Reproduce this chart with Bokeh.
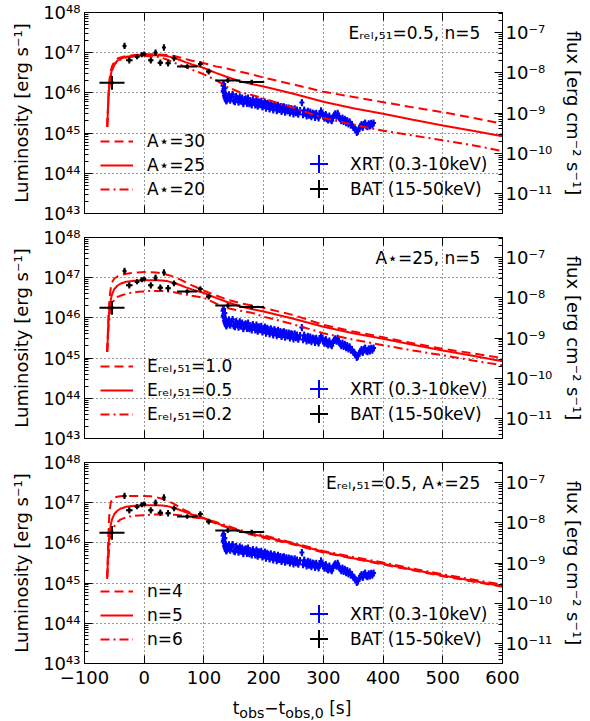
import numpy as np
from bokeh.plotting import figure
from bokeh.models import (Range1d, LogScale, LogAxis, LinearAxis, LogTicker, FixedTicker,
                          Label, Legend, LegendItem, CustomJSTickFormatter, Div)
from bokeh.layouts import column
from bokeh.embed import file_html
from bokeh.resources import INLINE

FONT = "DejaVu Sans"

# ---------------- data ----------------
x_ticks = [-100, 0, 100, 200, 300, 400, 500, 600]

# BAT (15-50 keV): time [s], log10 L, half-width in time, log error
bat_t = [-54, -33, -25, -12, -4, 0, 11, 19, 27, 33, 40, 50, 72, 94, 108, 140, 180]
bat_logL = [46.25, 47.17, 46.81, 46.90, 46.95, 46.97, 46.81, 47.00, 46.75, 47.13, 46.74, 46.86,
            46.66, 46.72, 46.53, 46.31, 46.27]
bat_terr = [21, 1.5, 5.5, 4, 3, 3, 4.5, 1.5, 4.5, 1.5, 4.5, 4, 17, 4, 4.5, 21, 21]
bat_dlog = [0.17, 0.08, 0.08, 0.06, 0.06, 0.06, 0.08, 0.08, 0.08, 0.08, 0.08, 0.07, 0.05,
            0.07, 0.07, 0.06, 0.06]

# XRT (0.3-10 keV)
xrt_t = [132, 132.5, 133, 133.5, 134, 134.5, 135, 135.5, 136, 136.5, 137, 137.5, 138, 139, 140,
         142, 144, 146, 148, 150, 152, 154, 156, 158, 160, 162, 164, 166, 168, 170, 172, 174,
         176, 178, 180, 182, 184, 186, 188, 190, 192, 194, 196, 198, 200, 202, 204, 206, 208,
         210, 212, 214, 216, 218, 220, 222, 224, 226, 228, 230, 232, 234, 236, 238, 240, 242,
         244, 246, 248, 250, 252, 254, 256, 258, 261, 264, 266, 268, 270, 272, 274, 276, 278,
         280, 282, 284, 286, 288, 290, 292, 294, 296, 298, 300, 302, 304, 306, 308, 310, 312,
         314, 316, 318, 320, 322, 324, 326, 328, 330, 332, 334, 336, 338, 340, 342, 344, 346,
         348, 350, 352, 354, 356, 358, 360, 362, 364, 366, 368, 370, 372, 374, 376, 378, 380,
         382, 384]
xrt_logL = [46.18, 46.05, 46.22, 46.10, 46.00, 45.93, 46.12, 45.88, 45.98, 45.84, 45.93, 45.80,
            45.89, 45.83, 45.88,
            45.95, 45.82, 45.90, 45.96, 45.80, 45.78, 45.91, 45.86, 45.77, 45.90, 45.80, 45.87,
            45.73, 45.83, 45.85, 45.74, 45.87, 45.73, 45.80, 45.70, 45.83, 45.78, 45.70, 45.82,
            45.67, 45.78, 45.71, 45.79, 45.65, 45.72, 45.77, 45.62, 45.74, 45.71, 45.60, 45.73,
            45.67, 45.58, 45.71, 45.66, 45.56, 45.69, 45.59, 45.66, 45.54, 45.64, 45.65, 45.52,
            45.63, 45.55, 45.62, 45.50, 45.60, 45.59, 45.48, 45.60, 45.51, 45.57, 45.47, 45.56,
            45.76, 45.46, 45.57, 45.50, 45.43, 45.54, 45.45, 45.52, 45.41, 45.50, 45.48, 45.39,
            45.49, 45.43, 45.38, 45.47, 45.55, 45.50, 45.42, 45.37, 45.46, 45.36, 45.33, 45.42,
            45.35, 45.31, 45.39, 45.44, 45.48, 45.42, 45.49, 45.40, 45.36, 45.31, 45.37, 45.29,
            45.34, 45.26, 45.31, 45.23, 45.28, 45.20, 45.21, 45.15, 45.13, 45.08, 45.02, 45.05,
            45.12, 45.17, 45.21, 45.14, 45.22, 45.25, 45.18, 45.16, 45.23, 45.18, 45.24, 45.20,
            45.25]
xrt_terr = 1.0
xrt_dlog = 0.09

# model light curves (log10 L) sampled at model_t
model_t = [-62, -61, -60, -59, -58, -56, -54, -50, -45, -40, -30, -20, -10, 0, 10, 20, 30, 40,
           50, 60, 70, 80, 100, 120, 140, 160, 180, 200, 250, 300, 350, 400, 450, 500, 550, 600]
model_E05_A25_n5 = [45.15, 45.50, 45.85, 46.10, 46.25, 46.45, 46.58, 46.72, 46.80, 46.85, 46.90,
                    46.92, 46.93, 46.94, 46.94, 46.94, 46.93, 46.91, 46.87, 46.82, 46.76, 46.71,
                    46.62, 46.50, 46.39, 46.29, 46.22, 46.16, 45.98, 45.78, 45.62, 45.48, 45.33,
                    45.19, 45.06, 44.92]
model_A30 = [45.15, 45.55, 45.90, 46.15, 46.35, 46.55, 46.66, 46.78, 46.85, 46.88, 46.92, 46.94,
             46.95, 46.96, 46.96, 46.96, 46.95, 46.94, 46.92, 46.88, 46.84, 46.80, 46.74, 46.66,
             46.60, 46.53, 46.46, 46.38, 46.21, 46.03, 45.90, 45.77, 45.64, 45.52, 45.38, 45.23]
model_A20 = [45.15, 45.45, 45.80, 46.05, 46.20, 46.42, 46.55, 46.70, 46.78, 46.83, 46.88, 46.90,
             46.91, 46.92, 46.91, 46.90, 46.87, 46.82, 46.75, 46.70, 46.64, 46.58, 46.46, 46.32,
             46.14, 46.02, 45.95, 45.86, 45.63, 45.38, 45.21, 45.06, 44.94, 44.82, 44.70, 44.55]
model_E10 = [45.15, 45.60, 46.00, 46.30, 46.50, 46.75, 46.88, 46.98, 47.03, 47.06, 47.10, 47.12,
             47.13, 47.14, 47.14, 47.13, 47.11, 47.07, 47.02, 46.96, 46.88, 46.81, 46.68, 46.56,
             46.45, 46.37, 46.31, 46.25, 46.07, 45.83, 45.66, 45.52, 45.37, 45.23, 45.12, 45.00]
model_E02 = [45.15, 45.45, 45.70, 45.90, 46.05, 46.25, 46.35, 46.46, 46.52, 46.55, 46.60, 46.63,
             46.65, 46.66, 46.67, 46.67, 46.67, 46.66, 46.64, 46.61, 46.58, 46.55, 46.50, 46.36,
             46.24, 46.18, 46.13, 46.03, 45.84, 45.62, 45.46, 45.32, 45.19, 45.07, 44.94, 44.82]
model_n4 = [45.10, 45.70, 46.20, 46.55, 46.80, 47.00, 47.08, 47.13, 47.15, 47.16, 47.17, 47.17,
            47.17, 47.17, 47.16, 47.14, 47.10, 47.04, 46.97, 46.88, 46.80, 46.73, 46.60, 46.48,
            46.38, 46.29, 46.20, 46.13, 45.96, 45.76, 45.61, 45.46, 45.32, 45.17, 45.04, 44.91]
model_n6 = [45.15, 45.40, 45.60, 45.80, 45.95, 46.15, 46.28, 46.42, 46.52, 46.58, 46.64, 46.67,
            46.68, 46.69, 46.70, 46.71, 46.71, 46.71, 46.70, 46.69, 46.67, 46.64, 46.60, 46.52,
            46.42, 46.32, 46.25, 46.19, 46.00, 45.80, 45.65, 45.51, 45.36, 45.22, 45.09, 44.96]

panel_labels = ["Eᵣₑₗ,₅₁=0.5, n=5", "A⋆=25, n=5", "Eᵣₑₗ,₅₁=0.5, A⋆=25"]
legend_labels = [["A⋆=30", "A⋆=25", "A⋆=20"],
                 ["Eᵣₑₗ,₅₁=1.0", "Eᵣₑₗ,₅₁=0.5", "Eᵣₑₗ,₅₁=0.2"],
                 ["n=4", "n=5", "n=6"]]
panel_models = [(model_A30, model_E05_A25_n5, model_A20),
                (model_E10, model_E05_A25_n5, model_E02),
                (model_n4, model_E05_A25_n5, model_n6)]

LOG_L_PER_FLUX = 54.5  # log10(4 pi d^2)

blank = CustomJSTickFormatter(code="return ''")
xfmt = CustomJSTickFormatter(code="return tick < 0 ? '\u2212' + (-tick) : '' + tick")
logfmt = CustomJSTickFormatter(code="""
const sup = {'-': '\u207b', '0': '\u2070', '1': '\u00b9', '2': '\u00b2', '3': '\u00b3',
             '4': '\u2074', '5': '\u2075', '6': '\u2076', '7': '\u2077', '8': '\u2078',
             '9': '\u2079'};
const e = Math.round(Math.log10(tick));
return '10' + String(e).split('').map((c) => sup[c]).join('');
""")

TICK_FS = "18px"
LABEL_FS = "18px"
TEXT_FS = "17px"


def style_axis(ax):
    ax.major_tick_in = 8
    ax.major_tick_out = 0
    ax.minor_tick_in = 4
    ax.minor_tick_out = 0
    ax.axis_line_color = "black"
    ax.major_tick_line_color = "black"
    ax.minor_tick_line_color = "black"
    ax.major_label_text_font = FONT
    ax.major_label_text_font_size = TICK_FS
    ax.major_label_text_color = "black"
    ax.axis_label_text_font = FONT
    ax.axis_label_text_font_size = LABEL_FS
    ax.axis_label_text_font_style = "normal"
    ax.axis_label_text_color = "black"


def make_panel(i, height, top, bottom, last):
    p = figure(width=590, height=height, x_range=Range1d(-100, 600),
               y_range=Range1d(10 ** 42.999, 10 ** 48.001), y_axis_type="log",
               output_backend="svg", toolbar_location=None,
               min_border_left=84, min_border_right=88, min_border_top=top,
               min_border_bottom=bottom)
    p.outline_line_color = "black"
    p.outline_line_alpha = 1
    p.background_fill_color = "white"
    p.border_fill_color = "white"

    xt = FixedTicker(ticks=x_ticks, minor_ticks=[])
    p.xaxis.ticker = xt
    p.xgrid.ticker = xt
    p.xaxis.formatter = xfmt if last else blank
    style_axis(p.xaxis[0])
    p.xaxis.major_label_standoff = 7 if last else 0

    yt = LogTicker(num_minor_ticks=10)
    p.yaxis.ticker = yt
    p.ygrid.ticker = yt
    p.yaxis.formatter = logfmt
    style_axis(p.yaxis[0])
    p.yaxis.axis_label = "Luminosity [erg s⁻¹]"
    p.yaxis.major_label_standoff = 4
    p.yaxis.axis_label_standoff = 8

    top_ax = LinearAxis(ticker=xt, formatter=blank)
    style_axis(top_ax)
    top_ax.major_label_standoff = 0
    p.add_layout(top_ax, "above")

    p.extra_y_ranges = {"flux": Range1d(10 ** (42.999 - LOG_L_PER_FLUX),
                                        10 ** (48.001 - LOG_L_PER_FLUX))}
    p.extra_y_scales = {"flux": LogScale()}
    r_ax = LogAxis(y_range_name="flux", ticker=LogTicker(num_minor_ticks=10),
                   formatter=logfmt, axis_label="flux [erg cm⁻² s⁻¹]")
    style_axis(r_ax)
    r_ax.major_label_standoff = 3
    r_ax.axis_label_standoff = 8
    p.add_layout(r_ax, "right")

    for g in (p.xgrid[0], p.ygrid[0]):
        g.grid_line_color = "black"
        g.grid_line_dash = "1 3"
        g.grid_line_width = 1
        g.grid_line_alpha = 0.8

    # XRT
    xt_arr = np.array(xrt_t, dtype=float)
    xl = np.array(xrt_logL)
    p.segment(x0=xt_arr - xrt_terr, y0=10 ** xl, x1=xt_arr + xrt_terr, y1=10 ** xl,
              line_color="#0000ff", line_width=2)
    p.segment(x0=xt_arr, y0=10 ** (xl - xrt_dlog), x1=xt_arr, y1=10 ** (xl + xrt_dlog),
              line_color="#0000ff", line_width=2)
    r_xrt = p.scatter(xt_arr, 10 ** xl, marker="cross", size=5, line_color="#0000ff",
                      line_width=2)

    # models
    dashes = ["9 5", "solid", "9 4 2 4"]
    rs = []
    for curve, dash in zip(panel_models[i], dashes):
        r = p.line(model_t, 10 ** np.array(curve), line_color="#ff0000", line_width=2,
                   line_dash=dash)
        rs.append(r)

    # BAT
    bt = np.array(bat_t, dtype=float)
    bl = np.array(bat_logL)
    be = np.array(bat_terr, dtype=float)
    bd = np.array(bat_dlog)
    p.segment(x0=bt - be, y0=10 ** bl, x1=bt + be, y1=10 ** bl, line_color="black",
              line_width=2)
    p.segment(x0=bt, y0=10 ** (bl - bd), x1=bt, y1=10 ** (bl + bd), line_color="black",
              line_width=2)
    r_bat = p.scatter(bt, 10 ** bl, marker="cross", size=4, line_color="black", line_width=2)

    leg = Legend(items=[LegendItem(label=lab, renderers=[r])
                        for lab, r in zip(legend_labels[i], rs)],
                 location=(16, 13), padding=0, margin=0, spacing=2, glyph_width=33,
                 glyph_height=22, label_height=22, label_standoff=14,
                 background_fill_alpha=0, border_line_alpha=0,
                 label_text_font=FONT, label_text_font_size=TEXT_FS,
                 label_text_color="black")
    p.add_layout(leg)

    for lab, r, y in (("XRT (0.3-10keV)", r_xrt, 27), ("BAT (15-50keV)", r_bat, 2)):
        lg = Legend(items=[LegendItem(label=lab, renderers=[r])], location=(212, y),
                    padding=0, margin=0, glyph_width=45, glyph_height=45, label_standoff=9,
                    background_fill_alpha=0, border_line_alpha=0,
                    label_text_font=FONT, label_text_font_size=TEXT_FS,
                    label_text_color="black")
        p.add_layout(lg)

    p.add_layout(Label(x=563, y=10 ** 47.5, text=panel_labels[i], text_align="right",
                       text_baseline="middle", text_font=FONT, text_font_size=TEXT_FS,
                       text_color="black"))
    return p


p1 = make_panel(0, 225, 12, 12, False)
p2 = make_panel(1, 225, 12, 12, False)
p3 = make_panel(2, 245, 12, 32, True)
xlabel = Div(text="t<sub>obs</sub>\u2212t<sub>obs,0</sub> [s]", width=584, height=26,
             margin=0,
             styles={"font-family": FONT, "font-size": "17px", "text-align": "center",
                     "line-height": "26px", "color": "black"})
layout = column(p1, p2, p3, xlabel, spacing=0)

open("out.html", "w").write(file_html(layout, INLINE))
